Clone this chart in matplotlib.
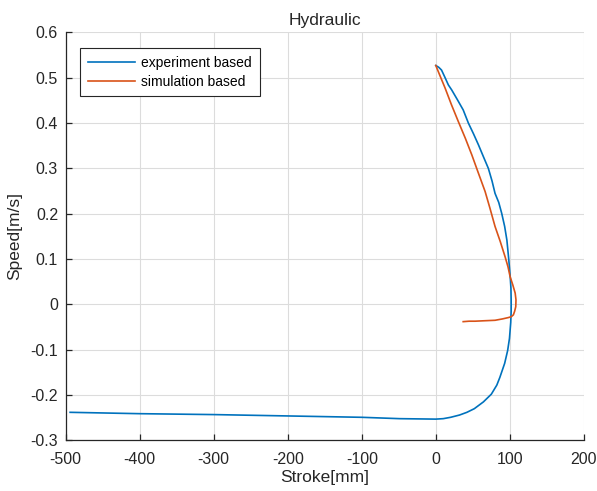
import numpy as np
import matplotlib
matplotlib.use("Agg")
import matplotlib.pyplot as plt

plt.rcParams["font.family"] = ["Liberation Sans", "DejaVu Sans"]
plt.rcParams["axes.unicode_minus"] = False

# experiment based (stroke in mm, speed in m/s)
exp_stroke = [0, 4, 7.7, 12, 17, 21.5, 29, 37, 44, 51, 57.6, 64, 71, 76, 80, 85, 89,
              93, 96, 98.5, 100.5, 101.5, 101.8, 101.8, 101.2, 99.5, 97, 93, 86.5,
              82.4, 75, 64.3, 52, 42, 32, 20, 10, 0, -48.6, -100, -200, -300, -400, -494]
exp_speed = [0.527, 0.523, 0.517, 0.502, 0.484, 0.473, 0.452, 0.429, 0.400, 0.376,
             0.352, 0.327, 0.300, 0.272, 0.245, 0.225, 0.201, 0.172, 0.142, 0.100,
             0.061, 0.035, 0.010, -0.015, -0.040, -0.075, -0.102, -0.130, -0.161,
             -0.178, -0.198, -0.215, -0.230, -0.238, -0.244, -0.249, -0.252, -0.253,
             -0.252, -0.249, -0.246, -0.243, -0.241, -0.238]

# simulation based
sim_stroke = [0, 6, 12.6, 21, 30.5, 40, 48.6, 57, 66.6, 73, 80, 87, 93.6, 97.5, 100.4,
              104, 107.2, 108.3, 108, 106.5, 104.8, 102, 98, 90, 80, 66, 53, 45, 37]
sim_speed = [0.527, 0.503, 0.477, 0.441, 0.403, 0.366, 0.330, 0.292, 0.249, 0.213,
             0.172, 0.139, 0.105, 0.083, 0.061, 0.043, 0.025, 0.010, -0.005, -0.015,
             -0.023, -0.027, -0.029, -0.032, -0.035, -0.036, -0.037, -0.037, -0.038]

x_ticks = [-500, -400, -300, -200, -100, 0, 100, 200]
x_labels = ["-500", "-400", "-300", "-200", "-100", "0", "100", "200"]
y_ticks = [-0.3, -0.2, -0.1, 0, 0.1, 0.2, 0.3, 0.4, 0.5, 0.6]
y_labels = ["-0.3", "-0.2", "-0.1", "0", "0.1", "0.2", "0.3", "0.4", "0.5", "0.6"]

fig = plt.figure(figsize=(5.97, 4.91), dpi=100)
ax = fig.add_axes([0.110, 0.103, 0.868, 0.831])

ax.plot(exp_stroke, exp_speed, color="#0072BD", lw=1.2, label="experiment based")
ax.plot(sim_stroke, sim_speed, color="#D95319", lw=1.2, label="simulation based")

ax.set_xlim(-500, 200)
ax.set_ylim(-0.3, 0.6)
ax.set_xticks(x_ticks)
ax.set_xticklabels(x_labels)
ax.set_yticks(y_ticks)
ax.set_yticklabels(y_labels)

ax.grid(True, color="#dcdcdc", lw=0.8)
ax.set_axisbelow(True)
for s in ["top", "right"]:
    ax.spines[s].set_visible(False)
for s in ["left", "bottom"]:
    ax.spines[s].set_color("#262626")
    ax.spines[s].set_linewidth(0.9)
ax.tick_params(direction="in", length=4, width=0.9, colors="#262626",
               labelsize=11.5, labelcolor="#262626")
ax.tick_params(axis="x", pad=8.5)
ax.tick_params(axis="y", pad=5.5)

ax.set_title("Hydraulic", fontsize=12.5, color="#262626", pad=5.5)
ax.set_xlabel("Stroke[mm]", fontsize=12.5, color="#262626")
ax.set_ylabel("Speed[m/s]", fontsize=12.5, color="#262626")
ax.xaxis.set_label_coords(0.5, -0.072)
ax.yaxis.set_label_coords(-0.083, 0.5)

leg = ax.legend(loc="upper left", bbox_to_anchor=(0.028, 0.962), borderaxespad=0,
                fancybox=False, framealpha=1, edgecolor="#262626", fontsize=10,
                handlelength=3.4, borderpad=0.55, labelspacing=0.36, handletextpad=0.45)
leg.get_frame().set_linewidth(0.8)

fig.savefig("out.png", dpi=100)
